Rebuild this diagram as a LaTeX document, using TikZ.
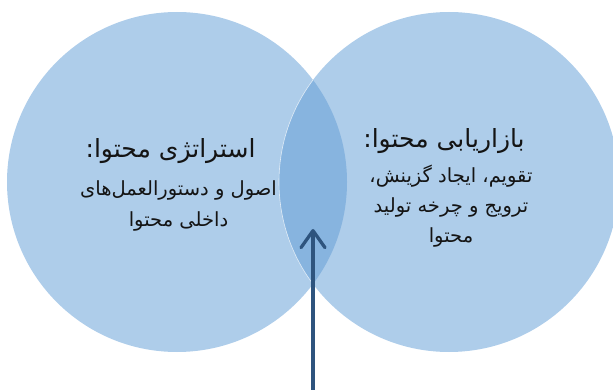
\documentclass[tikz,border=0pt]{standalone}
\usepackage{fontspec}
\usetikzlibrary{arrows.meta}
\TeXXeTstate=1
\newfontfamily\persianfont[Script=Arabic]{DejaVu Sans}
\definecolor{setfill}{HTML}{AECDEA}
\definecolor{overlapfill}{HTML}{87B4DF}
\definecolor{arrowblue}{HTML}{2E547E}
\definecolor{textdark}{HTML}{141414}
\tikzset{
  setdisk/.style={circle, fill=setfill, draw=none, inner sep=0pt, minimum size=340pt},
  headtext/.style={font=\persianfont\fontsize{25}{30}\selectfont, text=textdark, inner sep=0pt, anchor=base},
  bodytext/.style={font=\persianfont\fontsize{19.5}{30}\selectfont, text=textdark, inner sep=0pt, anchor=base},
  pointer/.style={draw=arrowblue, line width=3.3pt, -{Straight Barb[length=17pt, width=24pt, line width=3.3pt, round]}}
}
\begin{document}
\begin{tikzpicture}[x=1pt, y=-1pt]
  \useasboundingbox (0,0) rectangle (613,390);
  % the two sets
  \node[setdisk] (strategy) at (177,182) {};
  \node[setdisk] (marketing) at (449,182) {};
  % their overlap
  \begin{scope}
    \clip (177,182) circle (170pt);
    \fill[overlapfill] (449,182) circle (170pt);
    \draw[white, opacity=0.7, line width=0.6pt] (449,182) circle (170pt);
  \end{scope}
  % labels of the left set
  \node[headtext] (strategyhead) at (170.5,158) {\beginR استراتژی محتوا:\endR};
  \node[bodytext] (strategyline1) at (178.5,196) {\beginR اصول و دستورالعمل^^^^200cهای\endR};
  \node[bodytext] (strategyline2) at (178.5,226) {\beginR داخلی محتوا\endR};
  % labels of the right set
  \node[headtext] (marketinghead) at (444,148) {\beginR بازاریابی محتوا:\endR};
  \node[bodytext] (marketingline1) at (451,183) {\beginR تقویم، ایجاد گزینش،\endR};
  \node[bodytext] (marketingline2) at (451,213) {\beginR ترویج و چرخه تولید\endR};
  \node[bodytext] (marketingline3) at (451,242) {\beginR محتوا\endR};
  % arrow rising into the overlap
  \coordinate (arrowfoot) at (313,392);
  \coordinate (arrowtip) at (313,229);
  \draw[pointer] (arrowfoot) -- (arrowtip);
\end{tikzpicture}
\end{document}
